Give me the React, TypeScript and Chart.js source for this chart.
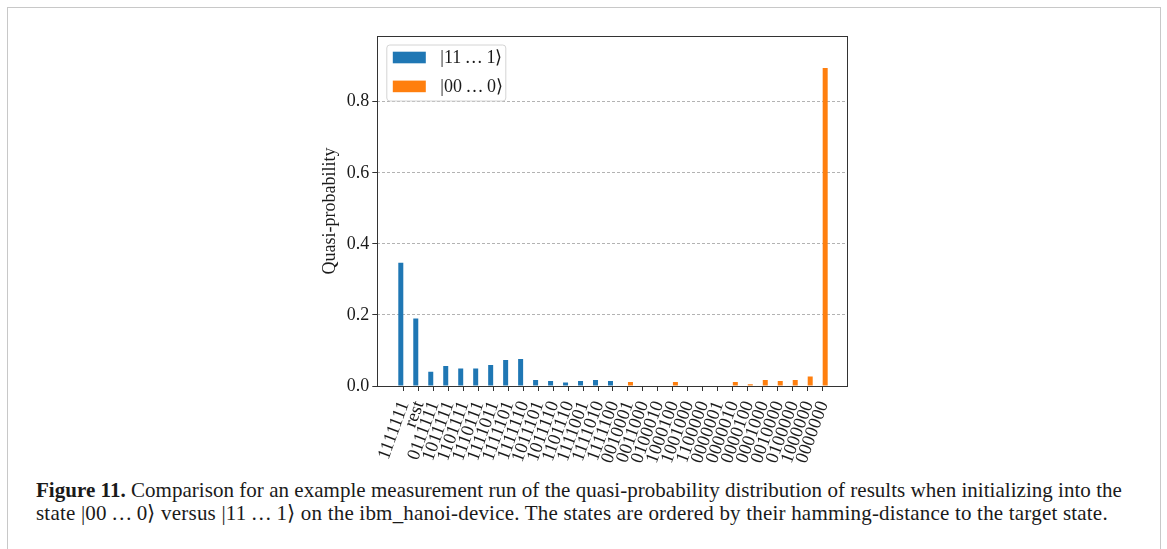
import React, { useEffect, useRef } from "react";
import { Chart, registerables } from "chart.js";

Chart.register(...registerables);

const stateLabels = [
  "1111111", "rest",
  "0111111", "1011111", "1101111", "1110111", "1111011", "1111101", "1111110",
  "1011101", "1011110", "1101110", "1111001", "1111010", "1111100",
  "0010001", "0011000", "0100010", "1000100", "1001000", "1100000",
  "0000001", "0000010", "0000100", "0001000", "0010000", "0100000", "1000000",
  "0000000",
];

const onesValues = [
  0.347, 0.19, 0.04, 0.056, 0.049, 0.049, 0.059, 0.073, 0.076,
  0.017, 0.014, 0.01, 0.014, 0.017, 0.014,
  null, null, null, null, null, null,
  null, null, null, null, null, null, null,
  null,
];

const zerosValues = [
  null, null, null, null, null, null, null, null, null,
  null, null, null, null, null, null,
  0.011, null, null, 0.011, null, null,
  null, 0.011, 0.005, 0.017, 0.014, 0.017, 0.027,
  0.895,
];

const seriesNames = ["|11\u2009…\u20091⟩", "|00\u2009…\u20090⟩"];
const seriesColors = ["#1f77b4", "#ff7f0e"];
const yTickValues = [0, 0.2, 0.4, 0.6, 0.8];
const yTitle = "Quasi-probability";

const SERIF = "'Liberation Serif', 'Times New Roman', serif";
const Y_AXIS_W = 62;
const X_AXIS_H = 80;

const framePlugin = {
  id: "frameAndLegend",
  afterDraw(chart: any) {
    const { ctx, chartArea: a } = chart;
    ctx.save();
    ctx.strokeStyle = "#333";
    ctx.lineWidth = 1;
    ctx.strokeRect(Math.round(a.left) + 0.5, Math.round(a.top) + 0.5, Math.round(a.right - a.left), Math.round(a.bottom - a.top));
    const lx = a.left + 9.5;
    const ly = a.top + 9;
    const lw = 119;
    const lh = 56;
    ctx.beginPath();
    ctx.roundRect(lx, ly, lw, lh, 3);
    ctx.fillStyle = "rgba(255,255,255,0.85)";
    ctx.fill();
    ctx.strokeStyle = "#d4d4d4";
    ctx.stroke();
    const rows = [a.top + 21.5, a.top + 50.4];
    ctx.font = `18px ${SERIF}`;
    ctx.textBaseline = "middle";
    ctx.textAlign = "left";
    seriesNames.forEach((name, i) => {
      ctx.fillStyle = seriesColors[i];
      ctx.fillRect(a.left + 15.5, rows[i] - 5.8, 33, 11.6);
      ctx.fillStyle = "#1a1a1a";
      ctx.fillText(name, a.left + 63, rows[i] + 1);
    });
    ctx.restore();
  },
};

export default function App() {
  const ref = useRef<HTMLCanvasElement | null>(null);

  useEffect(() => {
    if (!ref.current) return;
    const chart = new Chart(ref.current, {
      type: "bar",
      data: {
        datasets: [
          {
            label: seriesNames[0],
            data: onesValues.map((v, i) => ({ x: i, y: v })) as any,
            backgroundColor: seriesColors[0],
            categoryPercentage: 0.668,
            barPercentage: 1.0,
          },
          {
            label: seriesNames[1],
            data: zerosValues.map((v, i) => ({ x: i, y: v })) as any,
            backgroundColor: seriesColors[1],
            categoryPercentage: 0.668,
            barPercentage: 1.0,
          },
        ],
      },
      options: {
        animation: false,
        responsive: false,
        events: [],
        layout: { padding: { left: 315.3, right: 319.3, top: 36, bottom: 4 } },
        plugins: { legend: { display: false }, tooltip: { enabled: false } },
        scales: {
          x: {
            type: "linear",
            offset: false,
            min: -1.736,
            max: 29.67,
            afterBuildTicks: (s: any) => {
              s.ticks = stateLabels.map((_, i) => ({ value: i }));
            },
            afterFit: (s: any) => {
              s.height = X_AXIS_H;
            },
            border: { display: false },
            grid: {
              offset: false,
              drawOnChartArea: false,
              drawTicks: true,
              tickLength: 5,
              tickColor: "#333",
              tickWidth: 1,
            },
            ticks: {
              autoSkip: false,
              minRotation: 70,
              maxRotation: 70,
              padding: 7,
              labelOffset: 1,
              color: "#1a1a1a",
              font: { family: SERIF, size: 18.5 },
              callback: (v: any) => stateLabels[v] ?? "",
            },
          },
          y: {
            min: 0,
            max: 0.985,
            afterBuildTicks: (s: any) => {
              s.ticks = yTickValues.map((v) => ({ value: v }));
            },
            afterFit: (s: any) => {
              s.width = Y_AXIS_W;
            },
            border: { display: false, dash: [3, 2] },
            grid: {
              color: (c: any) => (c.tick && c.tick.value === 0 ? "rgba(0,0,0,0)" : "#b3b3b3"),
              lineWidth: 1,
              tickLength: 5,
              tickColor: "#333",
              tickWidth: 1,
            },
            ticks: {
              padding: 3,
              color: "#1a1a1a",
              font: { family: SERIF, size: 18 },
              callback: (v: any) => Number(v).toFixed(1),
            },
            title: {
              display: true,
              text: yTitle,
              color: "#1a1a1a",
              font: { family: SERIF, size: 18 },
              padding: { top: 4, bottom: 0 },
            },
          },
        },
      },
      plugins: [framePlugin],
    });
    return () => chart.destroy();
  }, []);

  return (
    <div style={{ position: "absolute", left: 0, top: 0, width: 1167, height: 549, background: "#fff", overflow: "hidden" }}>
      <div
        style={{
          position: "absolute",
          left: 7,
          top: 7,
          width: 1152,
          height: 600,
          borderTop: "1px solid #c8c8c8",
          borderLeft: "1px solid #c8c8c8",
          borderRight: "1px solid #c8c8c8",
        }}
      />
      <canvas ref={ref} width={1167} height={470} style={{ position: "absolute", left: 0, top: 0, width: 1167, height: 470 }} />
      <div
        style={{
          position: "absolute",
          left: 36,
          top: 479,
          fontFamily: SERIF,
          fontSize: 21,
          lineHeight: "23px",
          color: "#1a1a1a",
          whiteSpace: "nowrap",
        }}
      >
        <div style={{ letterSpacing: "0.03px" }}>
          <b>Figure 11.</b> Comparison for an example measurement run of the quasi-probability distribution of results when initializing into the
        </div>
        <div style={{ letterSpacing: "0.2px" }}>
          state |00{"\u2009…\u2009"}0⟩ versus |11{"\u2009…\u2009"}1⟩ on the ibm_hanoi-device. The states are ordered by their hamming-distance to the target state.
        </div>
      </div>
    </div>
  );
}
